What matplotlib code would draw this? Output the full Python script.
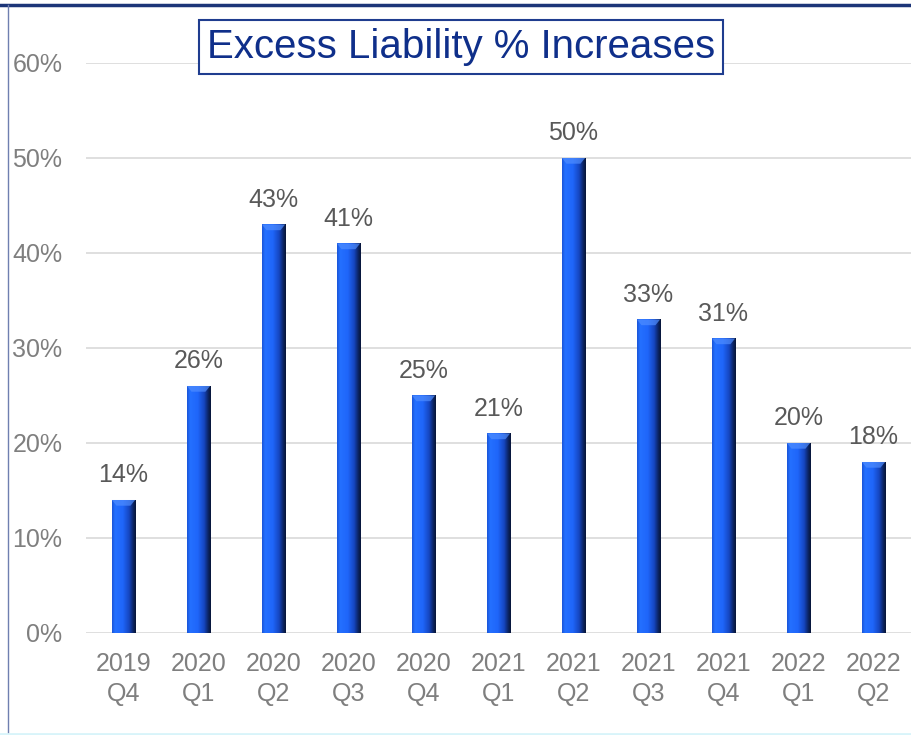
import matplotlib.pyplot as plt
import numpy as np
from matplotlib.colors import LinearSegmentedColormap
from matplotlib.lines import Line2D
from matplotlib.patches import Polygon

# trimestres et hausses (%)
annees = ['2019', '2020', '2020', '2020', '2020', '2021', '2021', '2021', '2021', '2022', '2022']
trimestres = ['Q4', 'Q1', 'Q2', 'Q3', 'Q4', 'Q1', 'Q2', 'Q3', 'Q4', 'Q1', 'Q2']
hausses = [14, 26, 43, 41, 25, 21, 50, 33, 31, 20, 18]
graduations = [0, 10, 20, 30, 40, 50, 60]

etiquettes = [a + '\n' + q for a, q in zip(annees, trimestres)]

plt.rcParams['font.family'] = ['Liberation Sans', 'DejaVu Sans']

fig = plt.figure(figsize=(9.11, 7.35), dpi=100)
ax = fig.add_axes([0.0944, 0.1388, 0.9056, 0.7755])

x = np.arange(len(hausses))
barres = ax.bar(x, hausses, width=0.31, color='none', edgecolor='none', zorder=3)

# degrade horizontal pour l'effet cylindre
degrade = LinearSegmentedColormap.from_list('cyl', [
    (0.0, '#1a55d8'), (0.12, '#2470ff'), (0.45, '#1f66fa'),
    (0.72, '#1546c0'), (0.9, '#0b2360'), (1.0, '#081638')])
grad = np.linspace(0, 1, 64).reshape(1, -1)
for b in barres:
    x0 = b.get_x()
    w = b.get_width()
    h = b.get_height()
    im = ax.imshow(grad, cmap=degrade, aspect='auto', extent=[x0, x0 + w, 0, h],
                   zorder=3, interpolation='bilinear')
    im.set_clip_path(b)
    # petit biseau clair en haut de la barre
    cap = Polygon([[x0, h], [x0 + w, h], [x0 + w * 0.8, h - 0.6], [x0 + w * 0.2, h - 0.6]],
                  closed=True, facecolor='#4f8dff', edgecolor='none', alpha=0.7, zorder=4)
    ax.add_patch(cap)

for xi, v in zip(x, hausses):
    ax.annotate(f'{v}%', (xi, v), xytext=(0, 9), textcoords='offset points',
                ha='center', va='bottom', fontsize=18, color='#595959')

ax.set_xlim(-0.5, len(hausses) - 0.5)
ax.set_ylim(0, 60)
ax.set_yticks(graduations)
ax.set_yticklabels([f'{g}%' for g in graduations])
ax.set_xticks(x)
ax.set_xticklabels(etiquettes, linespacing=1.3)
ax.tick_params(axis='y', length=0, pad=17, labelsize=18, labelcolor='#7f7f7f')
ax.tick_params(axis='x', length=0, pad=14, labelsize=18, labelcolor='#7f7f7f')
ax.grid(axis='y', color='#d9d9d9', linewidth=1.2, zorder=0)
ax.set_axisbelow(True)
for s in ax.spines.values():
    s.set_visible(False)

# titre encadre
fig.text(0.506, 0.936, 'Excess Liability % Increases', ha='center', va='center',
         fontsize=29, color='#0f2f8a',
         bbox=dict(boxstyle='square,pad=0.2', facecolor='white', edgecolor='#1f3d8f', linewidth=1.5))

# cadre de la diapositive
fig.add_artist(Line2D([0, 1], [0.993, 0.993], color='#1c3578', linewidth=2.5))
fig.add_artist(Line2D([0.009, 0.009], [0, 0.993], color='#6f7fb0', linewidth=1))
fig.add_artist(Line2D([0, 1], [0.002, 0.002], color='#d8f4fa', linewidth=2))

plt.savefig('out.png', dpi=100)
plt.close()
